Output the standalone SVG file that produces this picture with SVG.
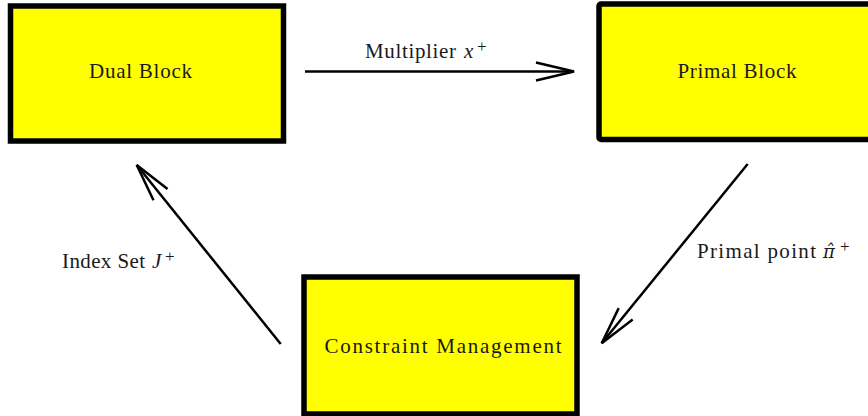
<svg xmlns="http://www.w3.org/2000/svg" width="868" height="416" viewBox="0 0 868 416">
<style>
.box{fill:#ffff00;stroke:#000;stroke-width:5.5}
.lbl{font-family:"Liberation Serif","DejaVu Serif",serif;font-size:21px;fill:#1a1a1a}
.conn{stroke:#000;stroke-width:2.5;fill:none}
.it{font-style:italic}
.sup{font-size:17px}
.pi{font-family:"DejaVu Serif",serif;font-style:italic;font-size:18px}
</style>
<defs>
<marker id="ah" markerUnits="userSpaceOnUse" viewBox="-45 -15 50 30" refX="0" refY="0" markerWidth="50" markerHeight="30" orient="auto" overflow="visible">
<path d="M-38,-9 L0,0 L-38,9" fill="none" stroke="#000" stroke-width="2.5" stroke-linejoin="miter"/>
</marker>
</defs>
<rect width="868" height="416" fill="#fff"/>
<g id="dual">
<rect class="box" x="10.5" y="6" width="273" height="135"/>
<text class="lbl" x="140.5" y="78" text-anchor="middle" textLength="103" lengthAdjust="spacing">Dual Block</text>
</g>
<g id="primal">
<rect class="box" x="599" y="4" width="275" height="135.5" rx="2" stroke-linejoin="round"/>
<text class="lbl" x="737" y="78" text-anchor="middle" textLength="119" lengthAdjust="spacing">Primal Block</text>
</g>
<g id="constraint">
<rect class="box" x="304" y="277" width="273" height="137"/>
<text class="lbl" x="443" y="353" text-anchor="middle" textLength="237" lengthAdjust="spacing">Constraint Management</text>
</g>
<g id="connectors">
<line class="conn" x1="305" y1="71.5" x2="574" y2="71.5" marker-end="url(#ah)"/>
<line class="conn" x1="747.7" y1="164" x2="601.7" y2="343.3" marker-end="url(#ah)"/>
<line class="conn" x1="280.7" y1="344" x2="136.7" y2="165" marker-end="url(#ah)"/>
<text class="lbl" x="365" y="58"><tspan textLength="91" lengthAdjust="spacing">Multiplier</tspan><tspan class="it" x="464" y="58">x</tspan><tspan class="sup" x="477" y="52">+</tspan></text>
<text class="lbl" x="697" y="258"><tspan textLength="119" lengthAdjust="spacing">Primal point</tspan><tspan class="pi" x="823" y="258">π̂</tspan><tspan class="sup" x="840" y="252">+</tspan></text>
<text class="lbl" x="62" y="268"><tspan textLength="83" lengthAdjust="spacing">Index Set</tspan><tspan class="it" x="152" y="268">J</tspan><tspan class="sup" x="165" y="262">+</tspan></text>
</g>
</svg>
